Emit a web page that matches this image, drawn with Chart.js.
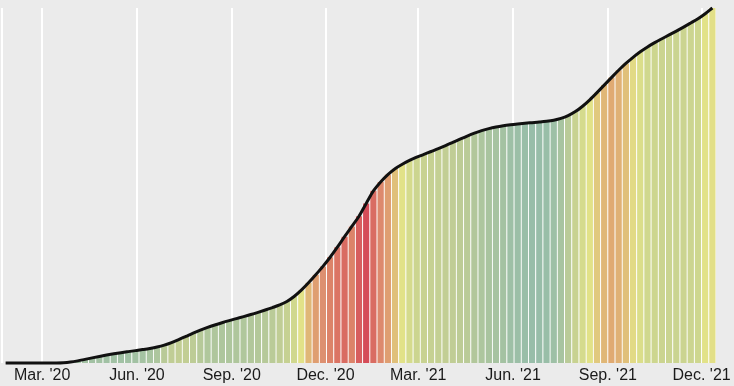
<!DOCTYPE html>
<html>
<head>
<meta charset="utf-8">
<script src="https://cdn.jsdelivr.net/npm/chart.js@4.4.1/dist/chart.umd.min.js"></script>
<style>
  html, body { margin: 0; padding: 0; background: #ebebeb; }
  .chart-box { width: 734px; height: 386px; }
</style>
</head>
<body>
<div class="chart-box"><canvas id="chart"></canvas></div>
<script>
// weeks start on this date, one bar per week
const startDate = '2020-01-22';

// cumulative cases (millions) at the middle of each week
const cumulativeCases = [
  0, 0, 0, 0, 0, 0, 0, 0.005, 0.035, 0.13,
  0.3, 0.51, 0.72, 0.92, 1.11, 1.285, 1.445, 1.59, 1.73, 1.875,
  2.035, 2.235, 2.5, 2.85, 3.275, 3.725, 4.175, 4.6, 4.975, 5.315,
  5.63, 5.925, 6.205, 6.48, 6.77, 7.08, 7.405, 7.745, 8.11, 8.585,
  9.285, 10.175, 11.2, 12.325, 13.5, 14.775, 16.175, 17.65, 19.075, 20.5,
  22.3, 24.05, 25.3, 26.325, 27.15, 27.775, 28.3, 28.75, 29.15, 29.55,
  29.95, 30.375, 30.825, 31.275, 31.71, 32.11, 32.46, 32.75, 32.98, 33.155,
  33.29, 33.4, 33.495, 33.58, 33.665, 33.77, 33.925, 34.17, 34.56, 35.125,
  35.875, 36.775, 37.775, 38.825, 39.875, 40.9, 41.85, 42.71, 43.485, 44.165,
  44.765, 45.31, 45.835, 46.375, 46.935, 47.51, 48.09, 48.79, 49.6
];

// new cases per week (millions)
const weeklyNewCases = [
  0, 0, 0, 0, 0, 0, 0, 0.02, 0.06, 0.12,
  0.15, 0.15, 0.15, 0.15, 0.14, 0.14, 0.14, 0.14, 0.15, 0.17,
  0.2, 0.24, 0.34, 0.4, 0.42, 0.42, 0.38, 0.32, 0.27, 0.26,
  0.25, 0.25, 0.26, 0.27, 0.28, 0.3, 0.32, 0.35, 0.4, 0.47,
  0.6, 0.8, 1.05, 1.2, 1.3, 1.4, 1.5, 1.55, 1.4, 1.65,
  1.8, 1.55, 1.35, 1.2, 1.0, 0.8, 0.65, 0.55, 0.5, 0.47,
  0.45, 0.42, 0.4, 0.38, 0.35, 0.28, 0.24, 0.21, 0.19, 0.17,
  0.12, 0.1, 0.08, 0.07, 0.07, 0.08, 0.12, 0.2, 0.35, 0.5,
  0.65, 0.8, 0.95, 1.05, 1.12, 1.08, 1.0, 0.85, 0.72, 0.6,
  0.56, 0.53, 0.52, 0.52, 0.53, 0.55, 0.58, 0.8, 0.82
];

const tickDates = ['2020-03-01', '2020-06-01', '2020-09-01', '2020-12-01',
                   '2021-03-01', '2021-06-01', '2021-09-01', '2021-12-01'];
const tickLabels = ["Mar. '20", "Jun. '20", "Sep. '20", "Dec. '20",
                    "Mar. '21", "Jun. '21", "Sep. '21", "Dec. '21"];

const DAY = 864e5;
const dayOf = (d) => (Date.parse(d) - Date.parse(startDate)) / DAY;
const tickDays = tickDates.map(dayOf);
const weekDays = cumulativeCases.map((_, i) => i * 7 + 3.5);
const points = weekDays.map((x, i) => ({ x: x, y: cumulativeCases[i] }));

// colour scale for weekly new cases
const stops = [
  [0.07, [152, 189, 169]],
  [0.2, [168, 196, 160]],
  [0.3, [180, 200, 154]],
  [0.42, [194, 206, 148]],
  [0.6, [208, 216, 142]],
  [0.8, [226, 226, 136]],
  [1.0, [224, 192, 122]],
  [1.12, [224, 170, 114]],
  [1.3, [221, 144, 112]],
  [1.45, [220, 124, 102]],
  [1.6, [216, 100, 96]],
  [1.8, [213, 76, 88]]
];
function colorFor(v) {
  if (v <= stops[0][0]) return 'rgb(' + stops[0][1].join(',') + ')';
  for (let i = 1; i < stops.length; i++) {
    if (v <= stops[i][0]) {
      const [a, ca] = stops[i - 1];
      const [b, cb] = stops[i];
      const t = (v - a) / (b - a);
      const c = ca.map((n, j) => Math.round(n + (cb[j] - n) * t));
      return 'rgb(' + c.join(',') + ')';
    }
  }
  return 'rgb(' + stops[stops.length - 1][1].join(',') + ')';
}

const ctx = document.getElementById('chart').getContext('2d');
new Chart(ctx, {
  type: 'bar',
  data: {
    datasets: [
      {
        type: 'line',
        data: points,
        borderColor: '#111',
        borderWidth: 3,
        pointRadius: 0,
        cubicInterpolationMode: 'monotone',
        fill: false,
        clip: false,
        order: 0
      },
      {
        type: 'bar',
        data: points,
        backgroundColor: weeklyNewCases.map(colorFor),
        borderColor: '#ffffff',
        borderWidth: { left: 0.8, right: 0.8, top: 0, bottom: 0 },
        borderSkipped: false,
        barPercentage: 1,
        categoryPercentage: 1,
        order: 1
      }
    ]
  },
  options: {
    responsive: true,
    maintainAspectRatio: false,
    animation: false,
    layout: { padding: { left: 2, right: 18, top: 8, bottom: 0 } },
    plugins: { legend: { display: false }, tooltip: { enabled: false } },
    scales: {
      x: {
        type: 'linear',
        min: 0,
        max: cumulativeCases.length * 7,
        offset: false,
        afterBuildTicks: (axis) => {
          axis.ticks = [0].concat(tickDays).map((v) => ({ value: v }));
        },
        afterFit: (axis) => {
          axis.height = 23;
          axis.paddingLeft = 0;
          axis.paddingRight = 0;
        },
        ticks: {
          autoSkip: false,
          maxRotation: 0,
          padding: 5,
          color: '#1a1a1a',
          font: { family: '"Liberation Sans", Arial, Helvetica, sans-serif', size: 16, lineHeight: 1.0 },
          callback: (v) => {
            const i = tickDays.indexOf(v);
            return i >= 0 ? tickLabels[i] : '';
          }
        },
        grid: { color: '#ffffff', lineWidth: 2, drawTicks: false, offset: false },
        border: { display: false }
      },
      y: {
        display: false,
        min: 0,
        max: Math.max(...cumulativeCases)
      }
    }
  }
});
</script>
</body>
</html>
